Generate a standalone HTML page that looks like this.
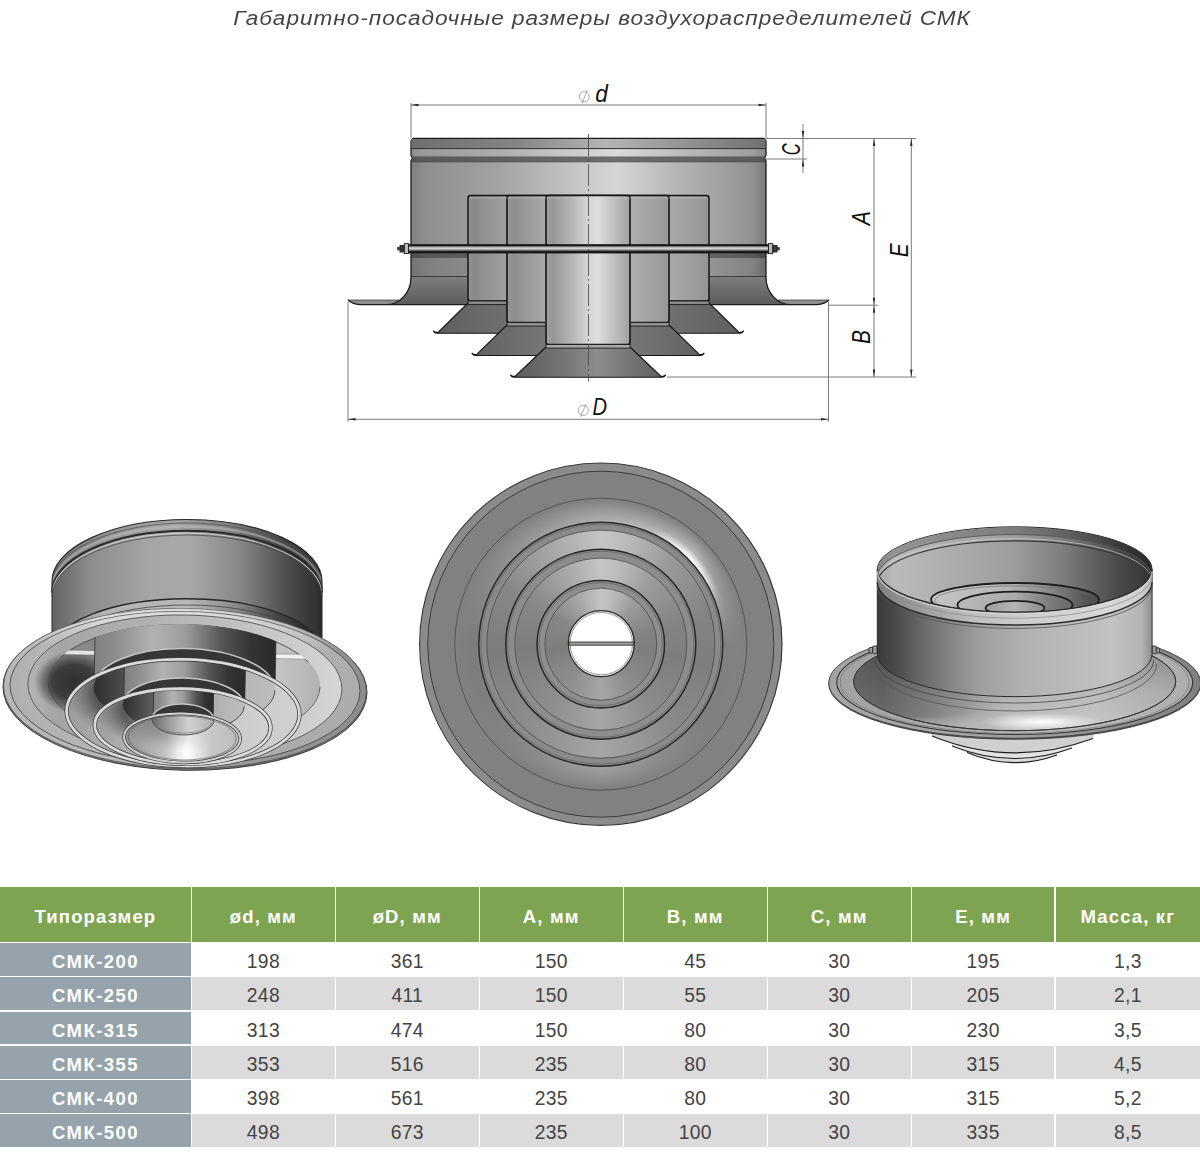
<!DOCTYPE html>
<html lang="ru">
<head>
<meta charset="utf-8">
<title>Габаритно-посадочные размеры воздухораспределителей СМК</title>
<style>
html,body{margin:0;padding:0;background:#fff;}
body{width:1200px;height:1159px;position:relative;overflow:hidden;font-family:"Liberation Sans",sans-serif;}
#title{position:absolute;left:1.5px;top:5px;transform:scaleX(1.13);transform-origin:600px 0;width:1200px;text-align:center;font-style:italic;font-size:20px;line-height:26px;color:#444;letter-spacing:.86px;white-space:nowrap;}
#art{position:absolute;left:0;top:0;width:1200px;height:1159px;}
#tbl{position:absolute;left:0;top:886.5px;width:1200px;height:262px;}

#v2{position:absolute;left:0;top:0;width:0;height:0;}
#v2 div{position:absolute;border-radius:50%;}
.cg{background:conic-gradient(from 0deg at 50% 50%,#c4c4c3 0deg,#bdbdbc 12deg,#9a9a99 40deg,#838382 75deg,#7e7e7d 100deg,#8a8a89 140deg,#a5a5a4 180deg,#8d8d8c 220deg,#7d7d7c 265deg,#868685 300deg,#a9a9a8 335deg,#c4c4c3 360deg);}
.c{position:absolute;text-align:center;white-space:nowrap;}
.h{top:0;height:55.2px;line-height:59px;background:#7fa451;color:#fff;font-weight:bold;font-size:18.5px;letter-spacing:1.15px;}
.n{background:#97a3ab;color:#fff;font-weight:bold;font-size:18.5px;letter-spacing:1.45px;height:32.9px;line-height:37px;left:0;width:191px;}
.v{color:#444;font-size:19.3px;height:32.9px;line-height:37px;letter-spacing:.3px;}
.g{background:#dbdbdb;}
</style>
</head>
<body>
<div id="title">Габаритно-посадочные размеры воздухораспределителей СМК</div>
<div id="v2">
<div class="" style="left:419.6px;top:463.0px;width:362.4px;height:362.4px;background:#8b8b8a;"></div>
<div class="" style="left:427.8px;top:471.2px;width:346.0px;height:346.0px;background:#828180;"></div>
<div class="" style="left:454.8px;top:498.2px;width:292.0px;height:292.0px;background:conic-gradient(from 0deg,#adadac 0deg,#b4b4b3 25deg,#cfcfce 45deg,#a0a09f 65deg,#828180 90deg,#807f7e 130deg,#a0a09f 180deg,#82817f 230deg,#7c7b7a 270deg,#90908f 310deg,#adadac 360deg);-webkit-mask-image:radial-gradient(closest-side,#000 0,#000 84%,rgba(0,0,0,.85) 87%,rgba(0,0,0,0) 99%);mask-image:radial-gradient(closest-side,#000 0,#000 84%,rgba(0,0,0,.85) 87%,rgba(0,0,0,0) 99%);"></div>
<div style="left:469.8px;top:513.2px;width:262px;height:262px;background:conic-gradient(from 0deg,rgba(255,255,255,0) 0deg,rgba(255,255,255,.1) 24deg,rgba(255,255,255,.95) 45deg,rgba(255,255,255,.8) 52deg,rgba(255,255,255,.1) 70deg,rgba(255,255,255,0) 82deg,rgba(255,255,255,0) 360deg);-webkit-mask-image:radial-gradient(closest-side,#000 0,#000 94.5%,rgba(0,0,0,.55) 96.5%,rgba(0,0,0,0) 99.5%);mask-image:radial-gradient(closest-side,#000 0,#000 94.5%,rgba(0,0,0,.55) 96.5%,rgba(0,0,0,0) 99.5%);"></div>
<div class="" style="left:478.8px;top:522.2px;width:244.0px;height:244.0px;background:#8a8a89;"></div>
<div class="cg" style="left:486.8px;top:530.2px;width:228.0px;height:228.0px;"></div>
<div class="" style="left:505.8px;top:549.2px;width:190.0px;height:190.0px;background:#8c8c8b;"></div>
<div class="cg" style="left:514.8px;top:558.2px;width:172.0px;height:172.0px;"></div>
<div class="" style="left:537.1px;top:580.5px;width:127.4px;height:127.4px;background:#8e8e8d;"></div>
<div class="cg" style="left:544.8px;top:588.2px;width:112.0px;height:112.0px;"></div>
<div class="" style="left:567.8px;top:611.2px;width:66.0px;height:66.0px;background:#fff;"></div>
</div>
<svg id="art" viewBox="0 0 1200 1159" width="1200" height="1159">
<defs>
</defs>
<!--TOP-->
<g id="top">
<defs>
<linearGradient id="gBody" x1="411" x2="766" y1="0" y2="0" gradientUnits="userSpaceOnUse">
<stop offset="0" stop-color="#808080"/><stop offset=".04" stop-color="#8e8e8e"/><stop offset=".25" stop-color="#a2a3a2"/><stop offset=".5" stop-color="#cacccb"/><stop offset=".58" stop-color="#d5d7d5"/><stop offset=".75" stop-color="#b4b5b4"/><stop offset=".96" stop-color="#929292"/><stop offset="1" stop-color="#7a7a7a"/>
</linearGradient>
<linearGradient id="gBand" x1="411" x2="766" y1="0" y2="0" gradientUnits="userSpaceOnUse">
<stop offset="0" stop-color="#6e6e6e"/><stop offset=".3" stop-color="#858585"/><stop offset=".55" stop-color="#b4b5b4"/><stop offset=".8" stop-color="#8f8f8f"/><stop offset="1" stop-color="#707070"/>
</linearGradient>
<linearGradient id="gFlare" x1="0" x2="0" y1="276" y2="305" gradientUnits="userSpaceOnUse">
<stop offset="0" stop-color="#7e7e7e"/><stop offset=".5" stop-color="#6c6c6c"/><stop offset="1" stop-color="#5c5c5c"/>
</linearGradient>
<linearGradient id="gT1" x1="468" x2="709" y1="0" y2="0" gradientUnits="userSpaceOnUse">
<stop offset="0" stop-color="#909090"/><stop offset=".03" stop-color="#8a8a8a"/><stop offset=".16" stop-color="#a0a0a0"/><stop offset=".5" stop-color="#a8a8a8"/><stop offset=".86" stop-color="#a6a6a6"/><stop offset="1" stop-color="#949494"/>
</linearGradient>
<linearGradient id="gT2" x1="507" x2="669" y1="0" y2="0" gradientUnits="userSpaceOnUse">
<stop offset="0" stop-color="#989898"/><stop offset=".04" stop-color="#8e8e8e"/><stop offset=".24" stop-color="#a8a8a8"/><stop offset=".5" stop-color="#b4b4b4"/><stop offset=".78" stop-color="#acacac"/><stop offset="1" stop-color="#989898"/>
</linearGradient>
<linearGradient id="gT3" x1="546" x2="630" y1="0" y2="0" gradientUnits="userSpaceOnUse">
<stop offset="0" stop-color="#a0a0a0"/><stop offset=".08" stop-color="#969696"/><stop offset=".3" stop-color="#b4b4b4"/><stop offset=".5" stop-color="#d4d6d4"/><stop offset=".62" stop-color="#dcdedc"/><stop offset=".82" stop-color="#bcbdbc"/><stop offset="1" stop-color="#a2a2a2"/>
</linearGradient>
<linearGradient id="gC1" x1="434" x2="743" y1="0" y2="0" gradientUnits="userSpaceOnUse">
<stop offset="0" stop-color="#5e5e5e"/><stop offset=".3" stop-color="#747474"/><stop offset=".7" stop-color="#747474"/><stop offset="1" stop-color="#5e5e5e"/>
</linearGradient>
<linearGradient id="gC2" x1="472" x2="704" y1="0" y2="0" gradientUnits="userSpaceOnUse">
<stop offset="0" stop-color="#606060"/><stop offset=".3" stop-color="#767676"/><stop offset=".7" stop-color="#767676"/><stop offset="1" stop-color="#606060"/>
</linearGradient>
<linearGradient id="gC3" x1="510" x2="667" y1="0" y2="0" gradientUnits="userSpaceOnUse">
<stop offset="0" stop-color="#5a5a5a"/><stop offset=".35" stop-color="#767676"/><stop offset=".55" stop-color="#8c8c8c"/><stop offset=".75" stop-color="#777"/><stop offset="1" stop-color="#5c5c5c"/>
</linearGradient>
<linearGradient id="gRod" x1="0" x2="0" y1="244.2" y2="253.4" gradientUnits="userSpaceOnUse">
<stop offset="0" stop-color="#101010"/><stop offset=".16" stop-color="#1a1a1a"/><stop offset=".24" stop-color="#6a6a6a"/><stop offset=".42" stop-color="#e2e2e2"/><stop offset=".56" stop-color="#b0b0b0"/><stop offset=".7" stop-color="#5a5a5a"/><stop offset=".8" stop-color="#1c1c1c"/><stop offset="1" stop-color="#101010"/>
</linearGradient>
</defs>
<!-- outer body silhouette -->
<path d="M413,138.5 L764,138.5 L766,141 L766,155.5 L764.5,158 L766,160.5 L766,277 A25,27.5 0 0 0 777.3,300 L829,300 Q825,304 817,304.7 L360,304.7 Q352,304 348,300 L399.7,300 A25,27.5 0 0 0 411,277 L411,160.5 L412.5,158 L411,155.5 L411,141 Z" fill="url(#gBody)"/>
<!-- collar + flare -->
<rect x="411" y="253" width="355" height="23.5" fill="#000" opacity=".1"/>
<path d="M411,276.5 L766,276.5 L766,277 A25,27.5 0 0 0 791,304.7 L386,304.7 A25,27.5 0 0 0 411,277 Z" fill="url(#gFlare)"/>
<path d="M348,300 L399.7,300 A25,27.5 0 0 1 386,304.7 L360,304.7 Q352,304 348,300Z M829,300 L777.3,300 A25,27.5 0 0 0 791,304.7 L817,304.7 Q825,304 829,300Z" fill="#8e8e8e"/>
<line x1="411" x2="766" y1="276.5" y2="276.5" stroke="#333" stroke-width=".9"/>
<path d="M348,300 L399,300 M829,300 L778,300" stroke="#333" stroke-width=".7" fill="none"/>
<path d="M348,300 Q352,304 360,304.7 L386,304.7 A25,27.5 0 0 0 411,277 L411,160.5 L412.5,158 L411,155.5 L411,141 L413,138.5 L764,138.5 L766,141 L766,155.5 L764.5,158 L766,160.5 L766,277 A25,27.5 0 0 0 791,304.7 L817,304.7 Q825,304 829,300" fill="none" stroke="#1c1c1c" stroke-width="1.3" stroke-linejoin="round"/>
<line x1="386" x2="791" y1="304.7" y2="304.7" stroke="#1c1c1c" stroke-width="1.2"/>
<!-- top band -->
<rect x="411.5" y="139" width="354" height="9.5" fill="url(#gBand)"/>
<line x1="411" x2="766" y1="148.6" y2="148.6" stroke="#333" stroke-width="1"/>
<rect x="411.5" y="149.3" width="354" height="6.5" fill="#fff" opacity=".12"/>
<rect x="412" y="156.5" width="353" height="5" fill="#4a4a4a" opacity=".75"/>
<line x1="411" x2="766" y1="161.8" y2="161.8" stroke="#3a3a3a" stroke-width=".8"/>
<!-- cone 1 & tube 1 -->
<path d="M468,303 L709,303 L738.5,332 Q741.5,333 743.5,331 Q742.5,333.3 740,333.3 L437,333.3 Q434.5,333.3 433.5,331 Q435.5,333 438.5,332 Z" fill="url(#gC1)" stroke="#161616" stroke-width="1.1" stroke-linejoin="round"/>
<rect x="468" y="195.5" width="241" height="105.5" rx="2.5" fill="url(#gT1)" stroke="#161616" stroke-width="1.5"/>
<rect x="468" y="301" width="241" height="3.6" fill="#8a8a8a" stroke="#1c1c1c" stroke-width=".9"/>
<!-- cone 2 & tube 2 -->
<path d="M507,325 L669,325 L699,354.2 Q702,355.2 704,353.2 Q703,355.5 700.5,355.5 L475.5,355.5 Q473,355.5 472,353.2 Q474,355.2 477,354.2 Z" fill="url(#gC2)" stroke="#161616" stroke-width="1.1" stroke-linejoin="round"/>
<rect x="507" y="195.5" width="162" height="127" rx="2.5" fill="url(#gT2)" stroke="#161616" stroke-width="1.6"/>
<rect x="507" y="322.5" width="162" height="3.6" fill="#909090" stroke="#1c1c1c" stroke-width=".9"/>
<!-- cone 3 & tube 3 -->
<path d="M546,347 L630,347 L660.5,376 Q663.5,377 665.5,375 Q664.5,377.3 662,377.3 L514,377.3 Q511.5,377.3 510.5,375 Q512.5,377 515.5,376 Z" fill="url(#gC3)" stroke="#161616" stroke-width="1.1" stroke-linejoin="round"/>
<rect x="546" y="195.5" width="84" height="149" rx="2.5" fill="url(#gT3)" stroke="#161616" stroke-width="1.6"/>
<rect x="546" y="344.5" width="84" height="3.6" fill="#a8a8a8" stroke="#1c1c1c" stroke-width=".9"/>
<!-- tube top highlight -->
<line x1="470" x2="707" y1="198" y2="198" stroke="#d8d8d8" stroke-width=".7" opacity=".55"/>
<!-- rod -->
<rect x="411.5" y="253.4" width="56" height="4.6" fill="#000" opacity=".32"/><rect x="709.5" y="253.4" width="56" height="4.6" fill="#000" opacity=".32"/>
<rect x="408" y="244.2" width="361" height="9.2" fill="url(#gRod)"/>
<g stroke="#1c1c1c" stroke-width=".9">
<rect x="404.3" y="243.6" width="4.2" height="10" fill="#bbb"/><rect x="400" y="245.4" width="4" height="6.6" fill="#3c3c3c"/><rect x="397.5" y="247.4" width="2.4" height="2.6" fill="#444" stroke-width=".5"/>
<rect x="768.5" y="243.6" width="4.2" height="10" fill="#bbb"/><rect x="773" y="245.4" width="4" height="6.6" fill="#3c3c3c"/><rect x="777.1" y="247.4" width="2.4" height="2.6" fill="#444" stroke-width=".5"/>
</g>
<!-- center line -->
<line x1="588.5" x2="588.5" y1="134" y2="381" stroke="#444" stroke-width=".8" stroke-dasharray="22 3 2 3"/>
<!-- dimensions -->
<g stroke="#6c6c6c" stroke-width=".9" fill="none">
<line x1="411" x2="411" y1="103" y2="138"/><line x1="766" x2="766" y1="103" y2="138"/><line x1="411" x2="766" y1="105" y2="105"/>
<line x1="348" x2="348" y1="302" y2="421.5"/><line x1="828.5" x2="828.5" y1="302" y2="421.5"/><line x1="348" x2="828.5" y1="419.3" y2="419.3"/>
<line x1="766" x2="916" y1="138.5" y2="138.5"/><line x1="766" x2="807" y1="159" y2="159"/>
<line x1="803" x2="803" y1="124" y2="173"/>
<line x1="829" x2="878" y1="305.2" y2="305.2"/><line x1="667" x2="916" y1="377" y2="377"/>
<line x1="874" x2="874" y1="138.5" y2="377"/><line x1="911.3" x2="911.3" y1="138.5" y2="377"/>
</g>
<g fill="#2a2a2a" stroke="none">
<path d="M411,105 l7.5,-1.2 v2.4z M766,105 l-7.5,-1.2 v2.4z M348,419.3 l7.5,-1.2 v2.4z M828.5,419.3 l-7.5,-1.2 v2.4z"/>
<path d="M803,138.5 l-1.2,-7.5 h2.4z M803,159 l-1.2,7.5 h2.4z"/>
<path d="M874,138.5 l-1.2,7.5 h2.4z M874,305.2 l-1.2,-7.5 h2.4z M874,305.2 l-1.2,7.5 h2.4z M874,377 l-1.2,-7.5 h2.4z M911.3,138.5 l-1.2,7.5 h2.4z M911.3,377 l-1.2,-7.5 h2.4z"/>
</g>
<g font-family="'Liberation Sans',sans-serif" font-style="italic" fill="#111">
<g fill="none" stroke="#888" stroke-width=".7"><circle cx="584.3" cy="96.7" r="5"/><line x1="582" x2="587.4" y1="103.2" y2="90"/><circle cx="583.3" cy="410.3" r="5.1"/><line x1="580.6" x2="586" y1="417" y2="404"/></g>
<text x="595.2" y="101.7" font-size="24" textLength="12.6" lengthAdjust="spacingAndGlyphs">d</text>
<text x="592.5" y="415.3" font-size="24.2" textLength="14.5" lengthAdjust="spacingAndGlyphs">D</text>
<text transform="translate(800.2,155.2) rotate(-90)" font-size="26" textLength="12" lengthAdjust="spacingAndGlyphs">C</text>
<text transform="translate(870.3,225.3) rotate(-90)" font-size="25" textLength="14.2" lengthAdjust="spacingAndGlyphs">A</text>
<text transform="translate(870.3,344) rotate(-90)" font-size="25" textLength="14" lengthAdjust="spacingAndGlyphs">B</text>
<text transform="translate(908.2,257) rotate(-90)" font-size="25" textLength="13.6" lengthAdjust="spacingAndGlyphs">E</text>
</g>
</g>

<!--/TOP-->
<!--V1-->
<g id="v1">
<defs>
<linearGradient id="aBody" x1="52" x2="322" y1="0" y2="0" gradientUnits="userSpaceOnUse">
<stop offset="0" stop-color="#626262"/><stop offset=".03" stop-color="#6c6c6c"/><stop offset=".14" stop-color="#8c8c8c"/><stop offset=".37" stop-color="#a6a6a6"/><stop offset=".51" stop-color="#a8a8a8"/><stop offset=".7" stop-color="#868686"/><stop offset=".88" stop-color="#4a4a4a"/><stop offset=".98" stop-color="#323232"/><stop offset="1" stop-color="#2a2a2a"/>
</linearGradient>
<linearGradient id="aLow" x1="52" x2="322" y1="0" y2="0" gradientUnits="userSpaceOnUse">
<stop offset="0" stop-color="#8e8e8e"/><stop offset=".2" stop-color="#b4b4b4"/><stop offset=".5" stop-color="#b8b8b8"/><stop offset=".68" stop-color="#8a8a8a"/><stop offset=".82" stop-color="#4a4a4a"/><stop offset=".92" stop-color="#303030"/><stop offset="1" stop-color="#2a2a2a"/>
</linearGradient>
<linearGradient id="aBand" x1="52" x2="322" y1="0" y2="0" gradientUnits="userSpaceOnUse">
<stop offset="0" stop-color="#6e6e6e"/><stop offset=".2" stop-color="#929292"/><stop offset=".45" stop-color="#a4a4a4"/><stop offset=".65" stop-color="#828282"/><stop offset=".85" stop-color="#444"/><stop offset="1" stop-color="#2e2e2e"/>
</linearGradient>
<linearGradient id="aRim" x1="3" x2="367" y1="0" y2="0" gradientUnits="userSpaceOnUse">
<stop offset="0" stop-color="#b8b8b8"/><stop offset=".3" stop-color="#c4c4c4"/><stop offset=".6" stop-color="#a8a8a8"/><stop offset="1" stop-color="#8c8c8c"/>
</linearGradient>
<linearGradient id="aRim2" x1="10" x2="360" y1="0" y2="0" gradientUnits="userSpaceOnUse">
<stop offset="0" stop-color="#b0b0b0"/><stop offset=".3" stop-color="#c0c0c0"/><stop offset=".6" stop-color="#b8b8b8"/><stop offset="1" stop-color="#acacac"/>
</linearGradient>
<linearGradient id="aRimV" x1="0" x2="0" y1="608" y2="770" gradientUnits="userSpaceOnUse">
<stop offset="0" stop-color="#fff" stop-opacity=".55"/><stop offset=".1" stop-color="#fff" stop-opacity=".35"/><stop offset=".25" stop-color="#fff" stop-opacity="0"/><stop offset="1" stop-color="#000" stop-opacity=".06"/>
</linearGradient>
<linearGradient id="aFlare" x1="28" x2="342" y1="0" y2="0" gradientUnits="userSpaceOnUse">
<stop offset="0" stop-color="#b4b4b4"/><stop offset=".1" stop-color="#a4a4a4"/><stop offset=".3" stop-color="#aeaeae"/><stop offset=".5" stop-color="#b8b8b8"/><stop offset=".9" stop-color="#cfcfcf"/><stop offset="1" stop-color="#d6d6d6"/>
</linearGradient>
<linearGradient id="aInner" x1="48" x2="320" y1="0" y2="0" gradientUnits="userSpaceOnUse">
<stop offset="0" stop-color="#8a8a8a"/><stop offset=".1" stop-color="#8c8c8c"/><stop offset=".3" stop-color="#808080"/><stop offset=".68" stop-color="#a4a4a4"/><stop offset=".85" stop-color="#c4c4c4"/><stop offset="1" stop-color="#b2b2b2"/>
</linearGradient>
<radialGradient id="aBlob" cx="74" cy="684" r="1" gradientUnits="userSpaceOnUse" gradientTransform="translate(74 684) scale(40 31) translate(-74 -684)">
<stop offset="0" stop-color="#2e2e2e" stop-opacity=".98"/><stop offset=".55" stop-color="#343434" stop-opacity=".9"/><stop offset=".8" stop-color="#444" stop-opacity=".5"/><stop offset="1" stop-color="#555" stop-opacity="0"/>
</radialGradient>
<linearGradient id="aLeftFade" x1="120" x2="215" y1="0" y2="0" gradientUnits="userSpaceOnUse"><stop offset="0" stop-color="#fff"/><stop offset="1" stop-color="#000"/></linearGradient>
<mask id="mLeft" maskUnits="userSpaceOnUse" x="0" y="480" width="400" height="340"><rect x="0" y="480" width="400" height="340" fill="url(#aLeftFade)"/></mask>
<radialGradient id="aSh1" cx="184.5" cy="694" r="1" gradientUnits="userSpaceOnUse" gradientTransform="translate(184.5 694) scale(119 58) translate(-184.5 -694)">
<stop offset="0" stop-color="#3c3c3c" stop-opacity=".8"/><stop offset=".76" stop-color="#3c3c3c" stop-opacity=".75"/><stop offset="1" stop-color="#555" stop-opacity="0"/>
</radialGradient>
<radialGradient id="aSh2" cx="184" cy="711" r="1" gradientUnits="userSpaceOnUse" gradientTransform="translate(184 711) scale(90 41) translate(-184 -711)">
<stop offset="0" stop-color="#3c3c3c" stop-opacity=".8"/><stop offset=".68" stop-color="#3c3c3c" stop-opacity=".75"/><stop offset="1" stop-color="#555" stop-opacity="0"/>
</radialGradient>
<radialGradient id="aSh3" cx="183.5" cy="724" r="1" gradientUnits="userSpaceOnUse" gradientTransform="translate(183.5 724) scale(60 27) translate(-183.5 -724)">
<stop offset="0" stop-color="#3c3c3c" stop-opacity=".5"/><stop offset=".55" stop-color="#3c3c3c" stop-opacity=".45"/><stop offset="1" stop-color="#555" stop-opacity="0"/>
</radialGradient>
<clipPath id="cFin"><ellipse cx="184.9" cy="686.5" rx="157" ry="71.5"/></clipPath>
<linearGradient id="aTube" x1="0" x2="1" y1="0" y2="0">
<stop offset="0" stop-color="#808080"/><stop offset=".12" stop-color="#8e8e8e"/><stop offset=".32" stop-color="#b2b2b2"/><stop offset=".5" stop-color="#9c9c9c"/><stop offset=".7" stop-color="#565656"/><stop offset=".86" stop-color="#343434"/><stop offset="1" stop-color="#2a2a2a"/>
</linearGradient>
<linearGradient id="aCone" x1="0" x2="1" y1="0" y2="0">
<stop offset="0" stop-color="#9a9a9a"/><stop offset=".15" stop-color="#adadad"/><stop offset=".4" stop-color="#c0c0c0"/><stop offset=".7" stop-color="#cacaca"/><stop offset="1" stop-color="#d0d0d0"/>
</linearGradient>
<linearGradient id="aCone3" x1="0" x2="1" y1="0" y2="0">
<stop offset="0" stop-color="#8e8e8e"/><stop offset=".15" stop-color="#a4a4a4"/><stop offset=".36" stop-color="#c2c2c2"/><stop offset=".47" stop-color="#efefef"/><stop offset=".55" stop-color="#ffffff"/><stop offset=".64" stop-color="#e6e6e6"/><stop offset=".76" stop-color="#c6c6c6"/><stop offset="1" stop-color="#bcbcbc"/>
</linearGradient>
<linearGradient id="aIn" x1="0" x2="1" y1="0" y2="0">
<stop offset="0" stop-color="#2e2e2e"/><stop offset=".2" stop-color="#555"/><stop offset=".5" stop-color="#8a8a8a"/><stop offset=".8" stop-color="#b4b4b4"/><stop offset="1" stop-color="#bdbdbd"/>
</linearGradient>
<linearGradient id="aIn3" x1="0" x2="1" y1="0" y2="0">
<stop offset="0" stop-color="#6a6a6a"/><stop offset=".3" stop-color="#a0a0a0"/><stop offset=".6" stop-color="#d0d0d0"/><stop offset="1" stop-color="#b0b0b0"/>
</linearGradient>
<clipPath id="cOpen"><ellipse cx="184" cy="684" rx="136" ry="60"/></clipPath>
<clipPath id="cE1"><ellipse cx="183.5" cy="712.7" rx="116.5" ry="53.3"/></clipPath>
<clipPath id="cE2"><ellipse cx="183.4" cy="726.4" rx="87.9" ry="37.6"/></clipPath>
<clipPath id="cE3"><ellipse cx="183.1" cy="738" rx="58.1" ry="24.5"/></clipPath>
<mask id="mE1" maskUnits="userSpaceOnUse" x="0" y="480" width="400" height="340"><rect x="0" y="480" width="400" height="340" fill="#fff"/><ellipse cx="183.5" cy="712.7" rx="116.5" ry="53.3" fill="#000"/></mask>
<mask id="mE2" maskUnits="userSpaceOnUse" x="0" y="480" width="400" height="340"><rect x="0" y="480" width="400" height="340" fill="#fff"/><ellipse cx="183.4" cy="726.4" rx="87.9" ry="37.6" fill="#000"/></mask>
<mask id="mE3" maskUnits="userSpaceOnUse" x="0" y="480" width="400" height="340"><rect x="0" y="480" width="400" height="340" fill="#fff"/><ellipse cx="183.1" cy="738" rx="58.1" ry="24.5" fill="#000"/></mask>
</defs>
<!-- outer cylinder -->
<path d="M52,581.5 A135,62 0 0 1 322,581.5 L322,650 L52,650 Z" fill="url(#aBody)"/>
<!-- top bands -->
<path d="M52,581.5 A135,62 0 0 1 322,581.5 L322,597.0 A135,62 0 0 0 52,597.0 Z" fill="url(#aBand)"/>
<path d="M52,585.0 A135,62 0 0 1 322,585.0" fill="none" stroke="#555" stroke-width=".8"/>
<path d="M52,588.5 A135,62 0 0 1 322,588.5" fill="none" stroke="#c8c8c8" stroke-width="2.4" opacity=".45"/>
<path d="M52,592.7 A135,62 0 0 1 322,592.7" fill="none" stroke="#2a2a2a" stroke-width="2"/>
<path d="M52,595.3 A135,62 0 0 1 322,595.3" fill="none" stroke="#e0e0e0" stroke-width="1.1" opacity=".8"/>
<path d="M52,597.0 A135,62 0 0 1 322,597.0" fill="none" stroke="#444" stroke-width=".7"/>
<path d="M52,581.5 A135,62 0 0 1 322,581.5" fill="none" stroke="#2a2a2a" stroke-width="1.2"/>
<!-- lower seam band -->
<path d="M52,651.75 A135,53 0 0 1 322,651.75 Z" fill="url(#aLow)"/>
<path d="M52,651.75 A135,53 0 0 1 322,651.75" fill="none" stroke="#262626" stroke-width="1.3"/>
<path d="M52,658 A135,53 0 0 1 322,658" fill="none" stroke="#444" stroke-width=".8"/>
<path d="M52,581.5 L52,645 M322,581.5 L322,645" stroke="#2a2a2a" stroke-width="1"/>
<!-- flange -->
<g transform="rotate(1.1 185 688.6)">
<ellipse cx="185" cy="689.6" rx="182" ry="80.6" fill="#7e7e7e" stroke="#3a3a3a" stroke-width="1"/>
<ellipse cx="185" cy="688.6" rx="181.5" ry="80" fill="url(#aRim)" stroke="#4a4a4a" stroke-width=".8"/>
<ellipse cx="185" cy="688.6" rx="181.5" ry="80" fill="url(#aRimV)"/>
<ellipse cx="185" cy="688" rx="175" ry="76.5" fill="url(#aRim2)" stroke="#484848" stroke-width=".9"/>
<ellipse cx="185" cy="688" rx="175" ry="76.5" fill="url(#aRimV)"/>
<ellipse cx="184.9" cy="686.5" rx="157" ry="71.5" fill="url(#aFlare)" stroke="#555" stroke-width=".9"/>
<!-- inner opening -->
<ellipse cx="184" cy="684" rx="136" ry="60" fill="url(#aInner)"/>
<path d="M48,684 A136,60 0 0 0 320,684" fill="none" stroke="#555" stroke-width=".8"/>
<path d="M60,660 A136,60 0 0 1 308,660" fill="none" stroke="#444" stroke-width=".8"/>
<g clip-path="url(#cFin)"><ellipse cx="74" cy="684" rx="40" ry="31" fill="url(#aBlob)"/></g>
<g clip-path="url(#cOpen)">
<rect x="62" y="652.3" width="34" height="4.6" fill="#e4e4e4" stroke="#555" stroke-width=".5"/>
<rect x="274" y="652.2" width="33" height="4.6" fill="#f2f2f2" stroke="#777" stroke-width=".5"/>
<!-- tube 1 -->
<rect x="94" y="610" width="181" height="95" fill="url(#aTube)" stroke="#333" stroke-width=".8"/>
</g>
<!-- level 1 -->
<ellipse cx="183.5" cy="712.7" rx="116.5" ry="53.3" fill="url(#aCone)"/>
<ellipse cx="183.5" cy="712.7" rx="116.5" ry="53.3" fill="url(#aSh1)" mask="url(#mLeft)"/>
<ellipse cx="184.5" cy="688.5" rx="90.5" ry="40" fill="url(#aIn)"/>
<ellipse cx="184.5" cy="688.5" rx="90.5" ry="40" fill="#363636" mask="url(#mE1)"/>
<path d="M94,688.5 A90.5,40 0 0 1 275,688.5" fill="none" stroke="#c4c4c4" stroke-width="1.6" mask="url(#mE1)"/>
<path d="M94,688.5 A90.5,40 0 0 0 275,688.5" fill="none" stroke="#333" stroke-width=".8"/>
<g clip-path="url(#cE1)"><rect x="124" y="650" width="121" height="80" fill="url(#aTube)" stroke="#2e2e2e" stroke-width=".8"/></g>
<ellipse cx="183.5" cy="712.7" rx="116.5" ry="53.3" fill="none" stroke="#3a3a3a" stroke-width="4.2"/>
<ellipse cx="183.5" cy="712.7" rx="116.5" ry="53.3" fill="none" stroke="#dadada" stroke-width="2.8"/>
<!-- level 2 -->
<ellipse cx="183.4" cy="726.4" rx="87.9" ry="37.6" fill="url(#aCone)"/>
<ellipse cx="183.4" cy="726.4" rx="87.9" ry="37.6" fill="url(#aSh2)" mask="url(#mLeft)"/>
<ellipse cx="184" cy="705" rx="60.6" ry="27" fill="url(#aIn)"/>
<ellipse cx="184" cy="705" rx="60.6" ry="27" fill="#363636" mask="url(#mE2)"/>
<path d="M123.4,705 A60.6,27 0 0 1 244.6,705" fill="none" stroke="#c4c4c4" stroke-width="1.6" mask="url(#mE2)"/>
<path d="M123.4,705 A60.6,27 0 0 0 244.6,705" fill="none" stroke="#333" stroke-width=".8"/>
<g clip-path="url(#cE2)"><rect x="153.7" y="680" width="60" height="60" fill="url(#aTube)" stroke="#2e2e2e" stroke-width=".8"/></g>
<ellipse cx="183.4" cy="726.4" rx="87.9" ry="37.6" fill="none" stroke="#3a3a3a" stroke-width="4.2"/>
<ellipse cx="183.4" cy="726.4" rx="87.9" ry="37.6" fill="none" stroke="#dadada" stroke-width="2.8"/>
<!-- level 3 -->
<ellipse cx="183.1" cy="738" rx="58.1" ry="24.5" fill="url(#aCone3)"/>
<ellipse cx="183.1" cy="738" rx="58.1" ry="24.5" fill="url(#aSh3)" mask="url(#mLeft)"/>
<ellipse cx="183.5" cy="719.5" rx="31" ry="15.5" fill="url(#aIn3)"/>
<ellipse cx="183.5" cy="719.5" rx="31" ry="15.5" fill="#363636" mask="url(#mE3)"/>
<path d="M152.5,719.5 A31,15.5 0 0 1 214.5,719.5" fill="none" stroke="#c4c4c4" stroke-width="1.5" mask="url(#mE3)"/>
<path d="M152.5,719.5 A31,15.5 0 0 0 214.5,719.5" fill="none" stroke="#444" stroke-width=".9"/>
<path d="M155,722 A28.5,11 0 0 0 212,722" fill="none" stroke="#777" stroke-width=".7"/>
<ellipse cx="183.1" cy="738" rx="58.1" ry="24.5" fill="none" stroke="#3c3c3c" stroke-width="3.4"/>
<ellipse cx="183.1" cy="738" rx="58.1" ry="24.5" fill="none" stroke="#d2d2d2" stroke-width="2"/>
<ellipse cx="183.1" cy="738" rx="54" ry="22" fill="none" stroke="#555" stroke-width=".6"/>
</g>
</g>

<!--/V1-->
<!--V2-->
<g id="v2l" fill="none" stroke="#333">
<circle cx="600.8" cy="644.2" r="181.2" stroke="#3a3a3a" stroke-width="1.2"/>
<circle cx="600.8" cy="644.2" r="173" stroke="#3c3c3c" stroke-width="1"/>
<circle cx="600.8" cy="644.2" r="146" stroke="#4a4a4a" stroke-width=".8"/>
<circle cx="600.8" cy="644.2" r="122" stroke="#2a2a2a" stroke-width="1.5"/>
<circle cx="600.8" cy="644.2" r="120" stroke="#555" stroke-width=".6"/>
<circle cx="600.8" cy="644.2" r="114" stroke="#4a4a4a" stroke-width=".8"/>
<circle cx="600.8" cy="644.2" r="95" stroke="#262626" stroke-width="1.5"/>
<circle cx="600.8" cy="644.2" r="93" stroke="#555" stroke-width=".6"/>
<circle cx="600.8" cy="644.2" r="86" stroke="#4a4a4a" stroke-width=".8"/>
<circle cx="600.8" cy="644.2" r="63.7" stroke="#262626" stroke-width="1.5"/>
<circle cx="600.8" cy="644.2" r="61.7" stroke="#555" stroke-width=".6"/>
<circle cx="600.8" cy="644.2" r="56" stroke="#4a4a4a" stroke-width=".8"/>
<circle cx="601.3" cy="643.6" r="33" stroke="#2a2a2a" stroke-width="1.3"/>
<circle cx="601.3" cy="643.6" r="31.2" stroke="#666" stroke-width=".7"/>
<rect x="569" y="642" width="64.6" height="3.2" fill="#9a9a9a" stroke="#2a2a2a" stroke-width=".8"/>
</g>

<!--/V2-->
<!--V3-->
<g id="v3">
<defs>
<linearGradient id="bBody" x1="877" x2="1152.3" y1="0" y2="0" gradientUnits="userSpaceOnUse">
<stop offset="0" stop-color="#3a3a3a"/><stop offset=".06" stop-color="#484848"/><stop offset=".18" stop-color="#6e6e6e"/><stop offset=".36" stop-color="#9c9c9c"/><stop offset=".55" stop-color="#b2b2b2"/><stop offset=".85" stop-color="#c2c2c2"/><stop offset=".96" stop-color="#b4b4b4"/><stop offset="1" stop-color="#8c8c8c"/>
</linearGradient>
<linearGradient id="bIn" x1="877" x2="1152.3" y1="0" y2="0" gradientUnits="userSpaceOnUse">
<stop offset="0" stop-color="#a6a6a6"/><stop offset=".06" stop-color="#bababa"/><stop offset=".22" stop-color="#b0b0b0"/><stop offset=".5" stop-color="#9c9c9c"/><stop offset=".68" stop-color="#7c7c7c"/><stop offset=".87" stop-color="#4c4c4c"/><stop offset="1" stop-color="#333"/>
</linearGradient>
<linearGradient id="bTop" x1="931" x2="1099" y1="0" y2="0" gradientUnits="userSpaceOnUse">
<stop offset="0" stop-color="#c4c4c4"/><stop offset=".45" stop-color="#b6b6b6"/><stop offset=".7" stop-color="#8a8a8a"/><stop offset=".9" stop-color="#5a5a5a"/><stop offset="1" stop-color="#484848"/>
</linearGradient>
<linearGradient id="bTop2" x1="957" x2="1073" y1="0" y2="0" gradientUnits="userSpaceOnUse">
<stop offset="0" stop-color="#b8b8b8"/><stop offset=".5" stop-color="#aaa"/><stop offset=".8" stop-color="#7c7c7c"/><stop offset="1" stop-color="#686868"/>
</linearGradient>
<linearGradient id="bTop3" x1="985" x2="1045" y1="0" y2="0" gradientUnits="userSpaceOnUse">
<stop offset="0" stop-color="#9c9c9c"/><stop offset=".5" stop-color="#b4b4b4"/><stop offset="1" stop-color="#8c8c8c"/>
</linearGradient>
<linearGradient id="bFl" x1="828" x2="1201" y1="0" y2="0" gradientUnits="userSpaceOnUse">
<stop offset="0" stop-color="#a4a4a4"/><stop offset=".3" stop-color="#a6a6a6"/><stop offset=".6" stop-color="#9a9a9a"/><stop offset="1" stop-color="#808080"/>
</linearGradient>
<linearGradient id="bFl2" x1="836" x2="1194" y1="0" y2="0" gradientUnits="userSpaceOnUse">
<stop offset="0" stop-color="#a2a2a2"/><stop offset=".2" stop-color="#a8a8a8"/><stop offset=".5" stop-color="#bababa"/><stop offset=".8" stop-color="#b6b6b6"/><stop offset="1" stop-color="#acacac"/>
</linearGradient>
<linearGradient id="bFlare" x1="854" x2="1176" y1="0" y2="0" gradientUnits="userSpaceOnUse">
<stop offset="0" stop-color="#b2b2b2"/><stop offset=".08" stop-color="#a8a8a8"/><stop offset=".25" stop-color="#acacac"/><stop offset=".5" stop-color="#c4c4c4"/><stop offset=".75" stop-color="#cacaca"/><stop offset="1" stop-color="#b8b8b8"/>
</linearGradient>
<radialGradient id="bHi" cx="1042" cy="722" r="1" gradientUnits="userSpaceOnUse" gradientTransform="translate(1042 722) scale(62 9) translate(-1042 -722)">
<stop offset="0" stop-color="#fff" stop-opacity="1"/><stop offset=".4" stop-color="#fff" stop-opacity=".6"/><stop offset="1" stop-color="#fff" stop-opacity="0"/>
</radialGradient>
<linearGradient id="bSh" x1="0" x2="0" y1="640" y2="735" gradientUnits="userSpaceOnUse">
<stop offset="0" stop-color="#000" stop-opacity=".3"/><stop offset=".55" stop-color="#000" stop-opacity=".08"/><stop offset="1" stop-color="#000" stop-opacity="0"/>
</linearGradient>
<radialGradient id="bRing" cx="1014.7" cy="672" r="1" gradientUnits="userSpaceOnUse" gradientTransform="translate(1015.3 672) scale(163 54) translate(-1015.3 -672)">
<stop offset="0" stop-color="#303030" stop-opacity=".55"/><stop offset=".82" stop-color="#303030" stop-opacity=".5"/><stop offset=".92" stop-color="#404040" stop-opacity=".2"/><stop offset="1" stop-color="#505050" stop-opacity="0"/>
</radialGradient>
<linearGradient id="bLF" x1="885" x2="1000" y1="0" y2="0" gradientUnits="userSpaceOnUse"><stop offset="0" stop-color="#fff"/><stop offset="1" stop-color="#000"/></linearGradient>
<mask id="mLeft3" maskUnits="userSpaceOnUse" x="800" y="480" width="400" height="340"><rect x="800" y="480" width="400" height="340" fill="url(#bLF)"/></mask>
<clipPath id="cTop"><ellipse cx="1014.7" cy="569.5" rx="136.8" ry="42.3"/></clipPath>
<clipPath id="cPage"><rect x="800" y="480" width="400" height="340"/></clipPath>
</defs>
<g clip-path="url(#cPage)">
<!-- bottom cones -->
<path d="M966,745 L967,752.5 Q1012,771.5 1057,755 L1058,745Z" fill="#dadada"/><path d="M967,752.5 Q1012,771.5 1057,755" fill="none" stroke="#1e1e1e" stroke-width="1.1"/>
<path d="M951,738 L952,746 Q1012,770 1072,748 L1073,738Z" fill="#e2e2e2"/><path d="M952,746 Q1012,770 1072,748" fill="none" stroke="#1e1e1e" stroke-width="1.1"/>
<path d="M931,728 L932,736 Q1012,768.5 1093,738.5 L1094,728Z" fill="#d0d0d0"/><path d="M932,736 Q1012,768.5 1093,738.5" fill="none" stroke="#1e1e1e" stroke-width="1.1"/>
<!-- flange -->
<ellipse cx="1014.7" cy="683.8" rx="186" ry="55.5" fill="#555" stroke="#333" stroke-width=".8"/>
<ellipse cx="1014.7" cy="683" rx="186" ry="55.2" fill="url(#bFl)" stroke="#3a3a3a" stroke-width=".8"/>
<ellipse cx="1014.7" cy="682.5" rx="178" ry="52" fill="url(#bFl2)" stroke="#333" stroke-width="1.1"/>
<ellipse cx="1014.7" cy="682.3" rx="174.5" ry="51" fill="none" stroke="#666" stroke-width=".6"/>
<ellipse cx="1014.7" cy="681.5" rx="161" ry="49.2" fill="url(#bFlare)" stroke="#3c3c3c" stroke-width="1"/>
<ellipse cx="1014.7" cy="681.5" rx="160.5" ry="48.7" fill="url(#bSh)"/>
<ellipse cx="1014.7" cy="681.5" rx="160.5" ry="48.7" fill="url(#bRing)" mask="url(#mLeft3)"/>
<ellipse cx="1042" cy="722" rx="64" ry="10" fill="url(#bHi)"/>
<ellipse cx="1014.7" cy="681.5" rx="161" ry="49.2" fill="none" stroke="#383838" stroke-width="1"/>
<!-- cylinder body -->
<path d="M877.3,569.5 L877.3,654.2 A137.4,42.5 0 0 0 1152.1,654.2 L1152.1,569.5 Z" fill="url(#bBody)" stroke="#2c2c2c" stroke-width="1"/>
<!-- bottom seams on flare -->
<path d="M875.6,660 A139.1,43 0 0 0 1153.8,660" fill="none" stroke="#444" stroke-width=".8"/>
<path d="M872.7,664 A142,47 0 0 0 1156.7,664" fill="none" stroke="#555" stroke-width=".8"/>
<!-- nuts -->
<g fill="#9a9a9a" stroke="#222" stroke-width=".8"><rect x="869" y="647.5" width="3.6" height="5.6" rx="1"/><rect x="872.6" y="646" width="4.4" height="7.6" rx="1"/><rect x="1152.3" y="646" width="4" height="7.6" rx="1"/><rect x="1156.2" y="648" width="3.2" height="5" rx="1"/></g>
<!-- top opening -->
<ellipse cx="1014.7" cy="569.5" rx="137.4" ry="42.7" fill="url(#bIn)" stroke="#2c2c2c" stroke-width="1"/>
<g clip-path="url(#cTop)">
<!-- far bead band -->
<path d="M877.3,569.5 A137.4,42.7 0 0 1 1152.1,569.5 L1152.1,583.5 A137.4,42.7 0 0 0 877.3,583.5Z" fill="url(#bIn)"/>
<path d="M877.3,569.5 A137.4,42.7 0 0 1 1152.1,569.5 L1152.1,577.2 A137.4,42.7 0 0 0 877.3,577.2Z" fill="#000" opacity=".2"/>
<path d="M877.3,577.2 A137.4,42.7 0 0 1 1152.1,577.2" fill="none" stroke="#555" stroke-width=".9"/>
<path d="M877.3,581.3 A137.4,42.7 0 0 1 1152.1,581.3" fill="none" stroke="#dcdcdc" stroke-width="1" opacity=".6"/>
<path d="M877.3,583.5 A137.4,42.7 0 0 1 1152.1,583.5" fill="none" stroke="#3a3a3a" stroke-width="1.1"/>
<!-- tube tops -->
<ellipse cx="1015" cy="599.5" rx="84" ry="16.5" fill="url(#bTop)" stroke="#1e1e1e" stroke-width="1.8"/>
<ellipse cx="1015" cy="600.5" rx="80" ry="14.6" fill="none" stroke="#6a6a6a" stroke-width=".6"/>
<ellipse cx="1015" cy="605" rx="57.5" ry="13.3" fill="url(#bTop2)" stroke="#1e1e1e" stroke-width="1.8"/>
<ellipse cx="1015" cy="608" rx="29.5" ry="7.2" fill="url(#bTop3)" stroke="#1e1e1e" stroke-width="1.7"/>
</g>
<!-- near rim band on outer wall -->
<path d="M877.3,569.5 A137.4,42.7 0 0 0 1152.1,569.5 L1152.1,582.3 A137.4,42.7 0 0 1 877.3,582.3Z" fill="#fff" opacity=".36"/>
<path d="M877.3,575.5 A137.4,42.7 0 0 0 1152.1,575.5" fill="none" stroke="#888" stroke-width=".7"/>
<path d="M877.3,582.3 A137.4,42.7 0 0 0 1152.1,582.3" fill="none" stroke="#2e2e2e" stroke-width="1.5"/>
<path d="M877.3,585.8 A137.4,42.7 0 0 0 1152.1,585.8" fill="none" stroke="#555" stroke-width=".8"/>
<path d="M877.3,569.5 A137.4,42.7 0 0 0 1152.1,569.5" fill="none" stroke="#2c2c2c" stroke-width="1.2"/>
<path d="M877.3,571.2 A137.4,42.7 0 0 0 1152.1,571.2" fill="none" stroke="#d6d6d6" stroke-width="1.3" opacity=".8"/>
</g>
</g>

<!--/V3-->
</svg>
<div id="tbl">
<!--TABLE-->
<div class="c h" style="left:0px;width:190.9px">Типоразмер</div>
<div class="c h" style="left:192.2px;width:142.40000000000003px">ød, мм</div>
<div class="c h" style="left:335.9px;width:142.70000000000005px">øD, мм</div>
<div class="c h" style="left:479.9px;width:142.70000000000005px">A, мм</div>
<div class="c h" style="left:623.9px;width:142.70000000000005px">B, мм</div>
<div class="c h" style="left:767.9px;width:142.70000000000005px">C, мм</div>
<div class="c h" style="left:911.9px;width:142.5000000000001px">E, мм</div>
<div class="c h" style="left:1055.7px;width:144.29999999999995px">Масса, кг</div>
<div class="c n" style="top:56.8px">СМК-200</div>
<div class="c v" style="top:56.8px;left:192.2px;width:142.40000000000003px">198</div>
<div class="c v" style="top:56.8px;left:335.9px;width:142.70000000000005px">361</div>
<div class="c v" style="top:56.8px;left:479.9px;width:142.70000000000005px">150</div>
<div class="c v" style="top:56.8px;left:623.9px;width:142.70000000000005px">45</div>
<div class="c v" style="top:56.8px;left:767.9px;width:142.70000000000005px">30</div>
<div class="c v" style="top:56.8px;left:911.9px;width:142.5000000000001px">195</div>
<div class="c v" style="top:56.8px;left:1055.7px;width:144.29999999999995px">1,3</div>
<div class="c n" style="top:90.9px">СМК-250</div>
<div class="c v g" style="top:90.9px;left:192.2px;width:142.40000000000003px">248</div>
<div class="c v g" style="top:90.9px;left:335.9px;width:142.70000000000005px">411</div>
<div class="c v g" style="top:90.9px;left:479.9px;width:142.70000000000005px">150</div>
<div class="c v g" style="top:90.9px;left:623.9px;width:142.70000000000005px">55</div>
<div class="c v g" style="top:90.9px;left:767.9px;width:142.70000000000005px">30</div>
<div class="c v g" style="top:90.9px;left:911.9px;width:142.5000000000001px">205</div>
<div class="c v g" style="top:90.9px;left:1055.7px;width:144.29999999999995px">2,1</div>
<div class="c n" style="top:125.1px">СМК-315</div>
<div class="c v" style="top:125.1px;left:192.2px;width:142.40000000000003px">313</div>
<div class="c v" style="top:125.1px;left:335.9px;width:142.70000000000005px">474</div>
<div class="c v" style="top:125.1px;left:479.9px;width:142.70000000000005px">150</div>
<div class="c v" style="top:125.1px;left:623.9px;width:142.70000000000005px">80</div>
<div class="c v" style="top:125.1px;left:767.9px;width:142.70000000000005px">30</div>
<div class="c v" style="top:125.1px;left:911.9px;width:142.5000000000001px">230</div>
<div class="c v" style="top:125.1px;left:1055.7px;width:144.29999999999995px">3,5</div>
<div class="c n" style="top:159.2px">СМК-355</div>
<div class="c v g" style="top:159.2px;left:192.2px;width:142.40000000000003px">353</div>
<div class="c v g" style="top:159.2px;left:335.9px;width:142.70000000000005px">516</div>
<div class="c v g" style="top:159.2px;left:479.9px;width:142.70000000000005px">235</div>
<div class="c v g" style="top:159.2px;left:623.9px;width:142.70000000000005px">80</div>
<div class="c v g" style="top:159.2px;left:767.9px;width:142.70000000000005px">30</div>
<div class="c v g" style="top:159.2px;left:911.9px;width:142.5000000000001px">315</div>
<div class="c v g" style="top:159.2px;left:1055.7px;width:144.29999999999995px">4,5</div>
<div class="c n" style="top:193.4px">СМК-400</div>
<div class="c v" style="top:193.4px;left:192.2px;width:142.40000000000003px">398</div>
<div class="c v" style="top:193.4px;left:335.9px;width:142.70000000000005px">561</div>
<div class="c v" style="top:193.4px;left:479.9px;width:142.70000000000005px">235</div>
<div class="c v" style="top:193.4px;left:623.9px;width:142.70000000000005px">80</div>
<div class="c v" style="top:193.4px;left:767.9px;width:142.70000000000005px">30</div>
<div class="c v" style="top:193.4px;left:911.9px;width:142.5000000000001px">315</div>
<div class="c v" style="top:193.4px;left:1055.7px;width:144.29999999999995px">5,2</div>
<div class="c n" style="top:227.5px">СМК-500</div>
<div class="c v g" style="top:227.5px;left:192.2px;width:142.40000000000003px">498</div>
<div class="c v g" style="top:227.5px;left:335.9px;width:142.70000000000005px">673</div>
<div class="c v g" style="top:227.5px;left:479.9px;width:142.70000000000005px">235</div>
<div class="c v g" style="top:227.5px;left:623.9px;width:142.70000000000005px">100</div>
<div class="c v g" style="top:227.5px;left:767.9px;width:142.70000000000005px">30</div>
<div class="c v g" style="top:227.5px;left:911.9px;width:142.5000000000001px">335</div>
<div class="c v g" style="top:227.5px;left:1055.7px;width:144.29999999999995px">8,5</div>
<!--/TABLE-->
</div>
</body>
</html>
